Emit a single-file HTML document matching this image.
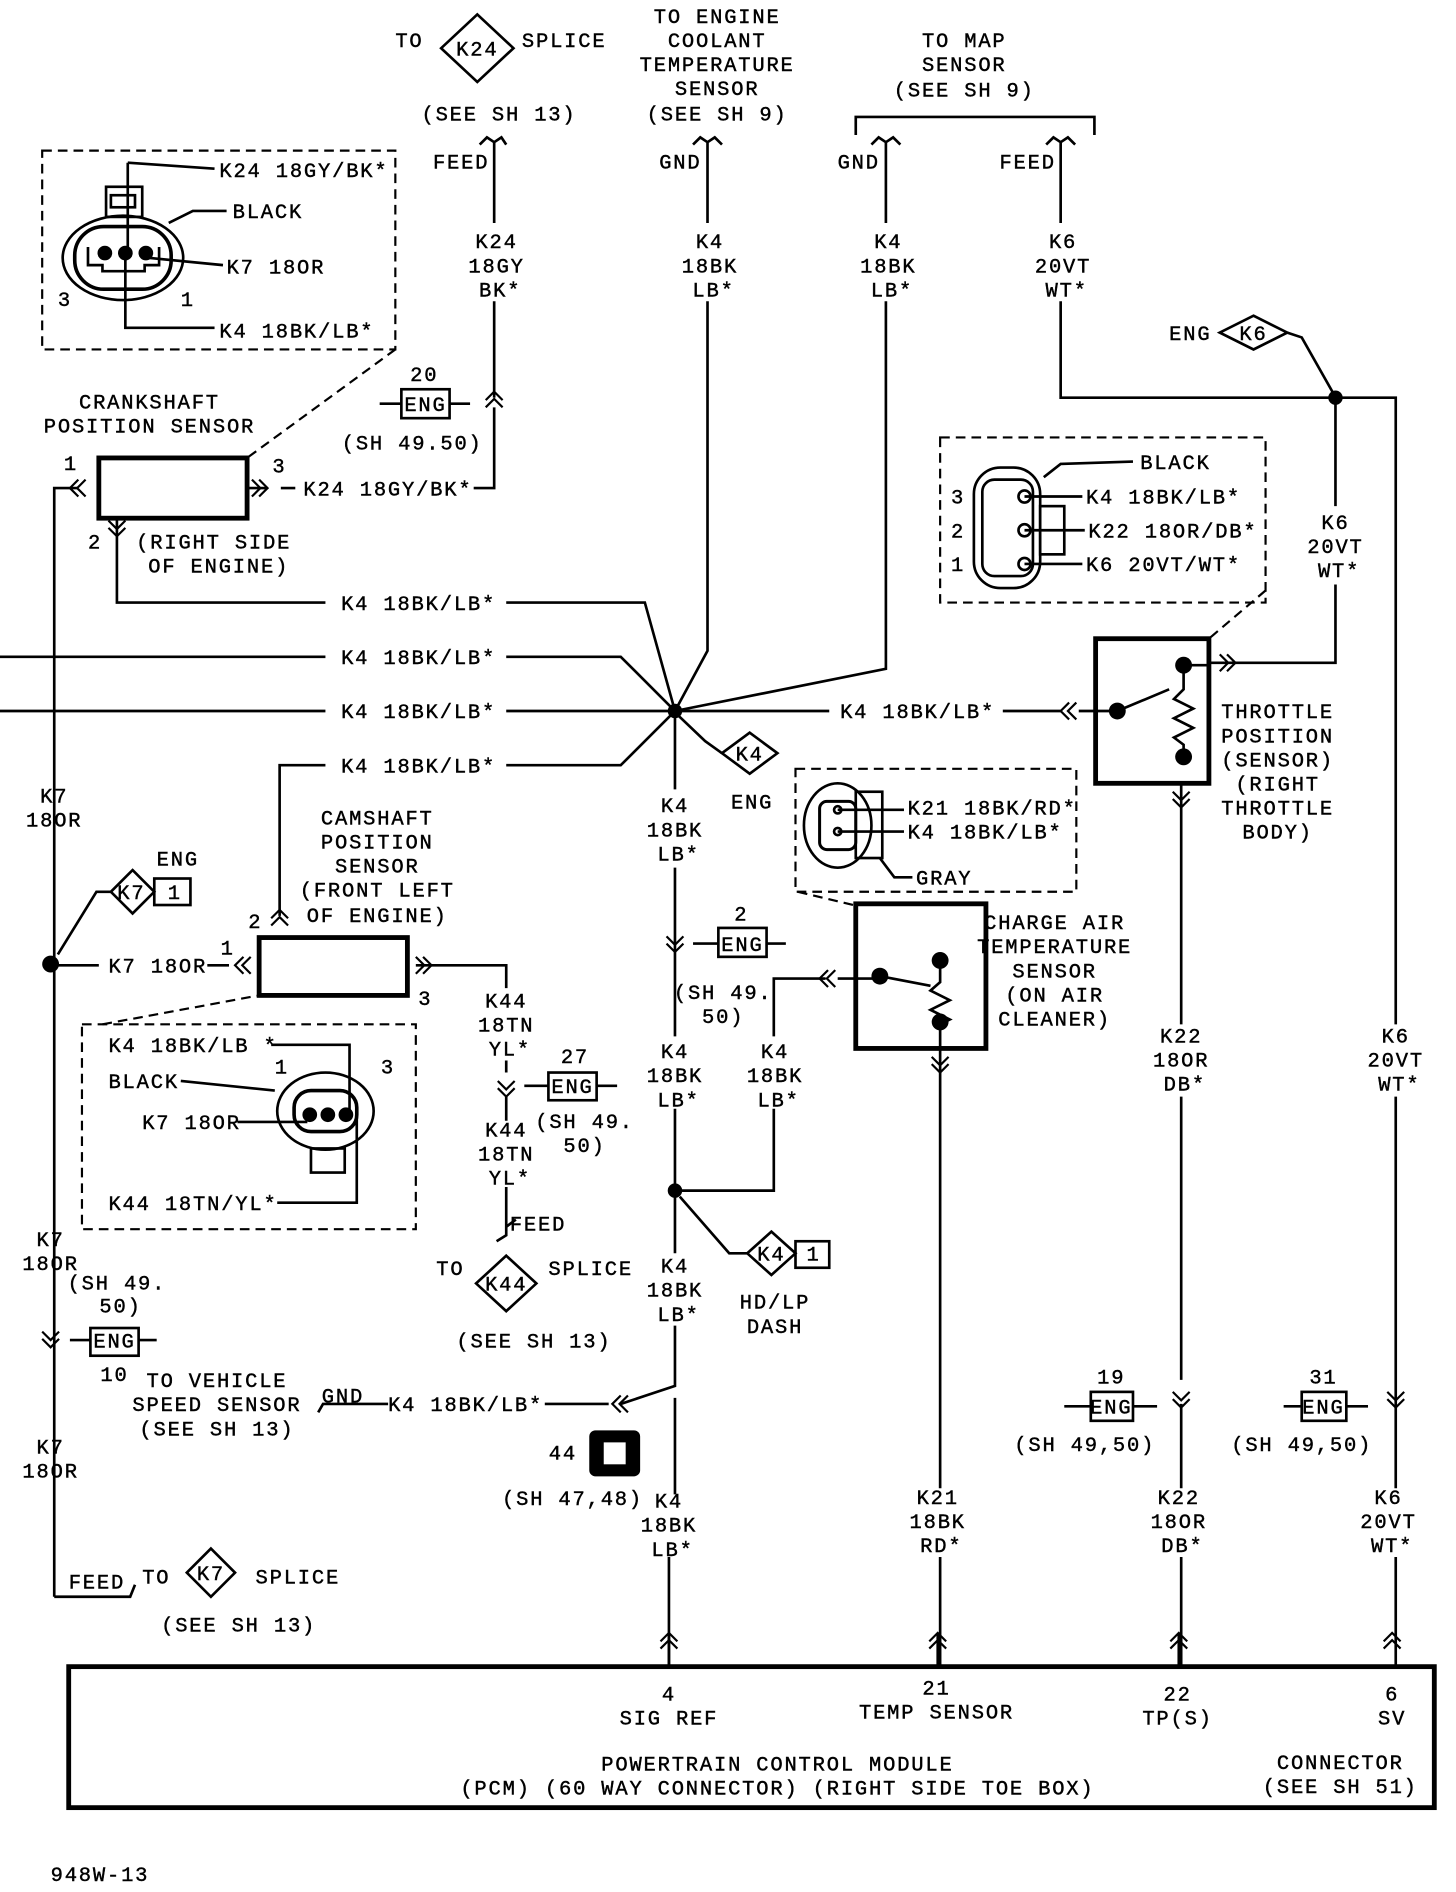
<!DOCTYPE html>
<html><head><meta charset="utf-8"><style>
html,body{margin:0;padding:0;background:#fff;}
svg{display:block;}
text{font-family:"Liberation Mono","DejaVu Sans Mono",monospace;font-size:17px;fill:#000;letter-spacing:1.5px;stroke:#000;stroke-width:0.35px;}
.c{text-anchor:middle;}
.e{text-anchor:end;}
</style></head><body>
<svg width="1456" height="1892" viewBox="0 0 1208 1570" preserveAspectRatio="none" xmlns="http://www.w3.org/2000/svg">
<defs>
<path id="cl" d="M7,-7 L0,0 L7,7 M13,-7 L6,0 L13,7" fill="none" stroke="#000" stroke-width="1.8"/>
<path id="cr" d="M-7,-7 L0,0 L-7,7 M-13,-7 L-6,0 L-13,7" fill="none" stroke="#000" stroke-width="1.8"/>
<path id="cu" d="M-7,7 L0,0 L7,7 M-7,13 L0,6 L7,13" fill="none" stroke="#000" stroke-width="1.8"/>
<path id="cd" d="M-7,-7 L0,0 L7,-7 M-7,-13 L0,-6 L7,-13" fill="none" stroke="#000" stroke-width="1.8"/>
</defs>
<g fill="none" stroke="#000" stroke-width="2.2">
<path d="M396,12 L426,40 L396,68 L366,40 Z"/>
<path d="M398,120 L404,114 L410,118 L416,114 L420,120 M410,118 L410,185 M410,250 L410,330 M410,338 L410,405 L393,405"/>
<path d="M315,335 L333,335 M373,335 L390,335"/>
<rect x="333" y="323" width="40" height="24"/>
<path d="M575,120 L581,114 L587,118 L593,114 L599,120 M587,118 L587,185 M587,250 L587,540 L560,590"/>
<path d="M710,112 L710,97 L908,97 L908,112"/>
<path d="M723,120 L729,114 L735,118 L741,114 L747,120 M735,118 L735,185 M735,250 L735,555 L560,590"/>
<path d="M868,120 L874,114 L880,118 L886,114 L892,120 M880,118 L880,185 M880,250 L880,330 L1158,330 L1158,850 M1158,910 L1158,1235 M1158,1292 L1158,1385"/>
<path d="M1040,262 L1068,276 L1040,290 L1012,276 Z"/>
<path d="M1068,276 L1080,280 L1106,326"/>
<path d="M1108,330 L1108,420 M1108,485 L1108,550 L1020,550 L1003,550"/>
<rect x="909" y="530" width="94" height="120" stroke-width="4"/>
<path d="M982,552 L982,572 L974,580 L990,588 L974,596 L990,604 L974,612 L982,618 L982,628 M927,590 L970,572 M982,552 L1003,552 M895,590 L927,590"/>
<path d="M980,650 L980,850 M980,910 L980,1145 M980,1165 L980,1235 M980,1292 L980,1385"/>
<path d="M883,1167 L905,1167 M940,1167 L960,1167"/>
<rect x="905" y="1155" width="35" height="24"/>
<path d="M1065,1167 L1080,1167 M1117,1167 L1135,1167"/>
<rect x="1080" y="1155" width="37" height="24"/>
<path d="M0,545 L270,545 M420,545 L515,545 L560,590"/>
<path d="M0,590 L270,590 M420,590 L688,590 M832,590 L880,590"/>
<path d="M97,430 L97,500 L270,500 M420,500 L535,500 L560,590"/>
<path d="M232,760 L232,635 L270,635 M420,635 L515,635 L560,590"/>
<path d="M622,608 L645,625 L622,642 L599,625 Z"/>
<path d="M599,625 L585,615 L563,594"/>
<g stroke-dasharray="8,5" stroke-width="1.8">
<rect x="35" y="125" width="293" height="165"/>
<path d="M328,290 L205,380"/>
<rect x="780" y="363" width="270" height="137"/>
<path d="M1050,490 L1003,530"/>
<rect x="660" y="638" width="233" height="102"/>
<path d="M662,740 L712,752"/>
<rect x="68" y="850" width="277" height="170"/>
<path d="M85,850 L215,826"/>
</g>
<ellipse cx="102" cy="214" rx="50" ry="35"/>
<rect x="62" y="188" width="80" height="52" rx="24" stroke-width="3"/>
<rect x="88" y="155" width="30" height="25"/>
<rect x="92" y="162" width="20" height="10"/>
<path d="M73,205 L73,220 L85,220 L85,225 L120,225 L120,220 L132,220 L132,205"/>
<path d="M106,135 L178,140 M106,135 L106,205 M124,214 L185,220"/>
<path d="M104,215 L104,272 L178,272"/>
<path d="M140,185 L160,175 L188,175"/>
<circle cx="87" cy="210" r="5" fill="#000"/><circle cx="104" cy="210" r="5" fill="#000"/><circle cx="121" cy="210" r="5" fill="#000"/>
<rect x="82" y="380" width="123" height="50" stroke-width="4"/>
<path d="M45,1325 L45,405 L65,405 M205,405 L222,405 M233,405 L245,405"/>
<path d="M45,1325 L108,1325 L112,1315"/>
<path d="M110,722 L128,740 L110,758 L92,740 Z"/>
<rect x="128" y="729" width="30" height="22"/>
<path d="M92,740 L80,740 L48,792"/>
<path d="M45,801 L82,801 M172,801 L190,801"/>
<path d="M58,1112 L75,1112 M115,1112 L130,1112"/>
<path d="M175,1285 L195,1305 L175,1325 L155,1305 Z"/>
<rect x="75" y="1102" width="40" height="23"/>
<rect x="215" y="778" width="123" height="48" stroke-width="4"/>
<path d="M345,801 L420,801 L420,820 M420,880 L420,890 M420,910 L420,930 M420,985 L420,1025 L412,1030 M420,1018 L428,1012"/>
<path d="M435,901 L455,901 M495,901 L512,901"/>
<rect x="455" y="890" width="40" height="23"/>
<path d="M420,1042 L445,1065 L420,1088 L395,1065 Z"/>
<ellipse cx="270" cy="922" rx="40" ry="32"/>
<rect x="244" y="905" width="52" height="34" rx="14" stroke-width="3"/>
<rect x="258" y="953" width="28" height="20"/>
<path d="M225,867 L290,867 L290,922 M197,931 L255,931 M230,998 L296,998 L296,922 M150,897 L228,905"/>
<circle cx="257" cy="925" r="5" fill="#000"/><circle cx="272" cy="925" r="5" fill="#000"/><circle cx="287" cy="925" r="5" fill="#000"/>
<path d="M560,590 L560,655 M560,720 L560,860 M560,920 L560,1040 M560,1100 L560,1150 L515,1165 M560,1160 L560,1240 M555,1292 L555,1385"/>
<path d="M575,783 L596,783 M636,783 L652,783"/>
<rect x="596" y="770" width="40" height="24"/>
<path d="M560,988 L642,988 L642,920 M642,860 L642,812 L685,812 M695,812 L730,812"/>
<path d="M640,1022 L660,1040 L640,1058 L620,1040 Z"/>
<rect x="660" y="1030" width="28" height="22"/>
<path d="M620,1040 L605,1040 L564,993"/>
<path d="M452,1165 L505,1165 M322,1165 L268,1165 L264,1172"/>
<rect x="490" y="1188" width="40" height="36" rx="4" fill="#000"/>
<rect x="502" y="1198" width="16" height="16" fill="#fff" stroke="#fff"/>
<rect x="710" y="750" width="108" height="120" stroke-width="4"/>
<path d="M780,797 L780,815 L772,822 L788,830 L772,838 L788,846 L780,850 M730,810 L772,818 M780,848 L780,1235 M780,1292 L780,1385"/>
<ellipse cx="695" cy="685" rx="28" ry="35"/>
<rect x="680" y="665" width="30" height="40" rx="6" stroke-width="2.5"/>
<rect x="710" y="657" width="22" height="55"/>
<path d="M695,672 L750,672 M695,690 L750,690 M730,712 L742,728 L757,728"/>
<circle cx="695" cy="672" r="3"/><circle cx="695" cy="690" r="3"/>
<rect x="808" y="388" width="55" height="100" rx="22"/>
<rect x="815" y="398" width="42" height="80" rx="10"/>
<rect x="863" y="420" width="20" height="40"/>
<path d="M850,412 L898,412 M850,440 L900,440 M850,468 L898,468 M866,396 L880,385 L940,383"/>
<circle cx="850" cy="412" r="5"/><circle cx="850" cy="440" r="5"/><circle cx="850" cy="468" r="5"/>
<rect x="57" y="1383" width="1133" height="117" stroke-width="4"/>
<path d="M555,1355 L555,1385 M778,1355 L778,1385 M978,1355 L978,1385"/>
</g>
<g fill="#000">
<circle cx="560" cy="590" r="6"/>
<circle cx="1108" cy="330" r="6"/>
<circle cx="42" cy="800" r="7"/>
<circle cx="560" cy="988" r="6"/>
<circle cx="982" cy="552" r="7"/><circle cx="982" cy="628" r="7"/><circle cx="927" cy="590" r="7"/>
<circle cx="780" cy="797" r="7"/><circle cx="780" cy="848" r="7"/><circle cx="730" cy="810" r="7"/>
</g>
<use href="#cu" x="410" y="325"/>
<use href="#cl" x="58" y="405"/>
<use href="#cr" x="222" y="405"/>
<use href="#cd" x="97" y="445"/>
<use href="#cr" x="1025" y="550"/>
<use href="#cl" x="880" y="590"/>
<use href="#cd" x="980" y="670"/>
<use href="#cu" x="232" y="755"/>
<use href="#cl" x="195" y="801"/>
<use href="#cr" x="358" y="801"/>
<use href="#cd" x="420" y="910"/>
<use href="#cd" x="560" y="790"/>
<use href="#cl" x="680" y="812"/>
<use href="#cd" x="780" y="890"/>
<use href="#cd" x="42" y="1118"/>
<use href="#cl" x="508" y="1165"/>
<use href="#cd" x="980" y="1168"/>
<use href="#cd" x="1158" y="1168"/>
<use href="#cu" x="555" y="1355"/>
<use href="#cu" x="778" y="1355"/>
<use href="#cu" x="978" y="1355"/>
<use href="#cu" x="1155" y="1355"/>
<text x="328" y="39">TO</text>
<text class="c" x="396" y="46">K24</text>
<text x="433" y="39">SPLICE</text>
<text class="c" x="414" y="100">(SEE SH 13)</text>
<text class="e" x="406" y="140">FEED</text>
<text class="c" x="412" y="206">K24</text><text class="c" x="412" y="226">18GY</text><text class="c" x="415" y="246">BK*</text>
<text class="c" x="352" y="316">20</text><text class="c" x="353" y="341">ENG</text>
<text class="c" x="342" y="373">(SH 49.50)</text>
<text class="e" x="392" y="411">K24 18GY/BK*</text>
<text class="c" x="595" y="19">TO ENGINE</text><text class="c" x="595" y="39">COOLANT</text><text class="c" x="595" y="59">TEMPERATURE</text><text class="c" x="595" y="79">SENSOR</text><text class="c" x="595" y="100">(SEE SH 9)</text>
<text class="e" x="582" y="140">GND</text>
<text class="c" x="589" y="206">K4</text><text class="c" x="589" y="226">18BK</text><text class="c" x="592" y="246">LB*</text>
<text class="c" x="800" y="39">TO MAP</text><text class="c" x="800" y="59">SENSOR</text><text class="c" x="800" y="80">(SEE SH 9)</text>
<text class="e" x="730" y="140">GND</text>
<text class="e" x="876" y="140">FEED</text>
<text class="c" x="737" y="206">K4</text><text class="c" x="737" y="226">18BK</text><text class="c" x="740" y="246">LB*</text>
<text class="c" x="882" y="206">K6</text><text class="c" x="882" y="226">20VT</text><text class="c" x="885" y="246">WT*</text>
<text x="970" y="282">ENG</text><text class="c" x="1040" y="282">K6</text>
<text class="c" x="1108" y="439">K6</text><text class="c" x="1108" y="459">20VT</text><text class="c" x="1111" y="479">WT*</text>
<text x="182" y="147">K24 18GY/BK*</text>
<text x="193" y="181">BLACK</text>
<text x="188" y="227">K7 18OR</text>
<text x="48" y="254">3</text><text x="150" y="254">1</text>
<text x="182" y="280">K4 18BK/LB*</text>
<text class="c" x="124" y="339">CRANKSHAFT</text><text class="c" x="124" y="359">POSITION SENSOR</text>
<text x="53" y="390">1</text><text x="226" y="392">3</text><text x="73" y="455">2</text>
<text x="113" y="455">(RIGHT SIDE</text><text x="123" y="475">OF ENGINE)</text>
<text x="283" y="506">K4 18BK/LB*</text>
<text x="283" y="551">K4 18BK/LB*</text>
<text x="283" y="596">K4 18BK/LB*</text>
<text x="283" y="641">K4 18BK/LB*</text>
<text x="697" y="596">K4 18BK/LB*</text>
<text x="946" y="389">BLACK</text>
<text x="789" y="418">3</text><text x="901" y="418">K4 18BK/LB*</text>
<text x="789" y="446">2</text><text x="903" y="446">K22 18OR/DB*</text>
<text x="789" y="474">1</text><text x="901" y="474">K6 20VT/WT*</text>
<text class="c" x="1060" y="596">THROTTLE</text><text class="c" x="1060" y="616">POSITION</text><text class="c" x="1060" y="636">(SENSOR)</text><text class="c" x="1060" y="656">(RIGHT</text><text class="c" x="1060" y="676">THROTTLE</text><text class="c" x="1060" y="696">BODY)</text>
<text class="c" x="622" y="631">K4</text><text class="c" x="624" y="671">ENG</text>
<text class="c" x="560" y="674">K4</text><text class="c" x="560" y="694">18BK</text><text class="c" x="563" y="714">LB*</text>
<text x="753" y="676">K21 18BK/RD*</text>
<text x="753" y="696">K4 18BK/LB*</text>
<text x="760" y="734">GRAY</text>
<text class="c" x="875" y="771">CHARGE AIR</text><text class="c" x="875" y="791">TEMPERATURE</text><text class="c" x="875" y="811">SENSOR</text><text class="c" x="875" y="831">(ON AIR</text><text class="c" x="875" y="851">CLEANER)</text>
<text class="c" x="615" y="764">2</text><text class="c" x="616" y="789">ENG</text>
<text class="c" x="600" y="829">(SH 49.</text><text class="c" x="600" y="849">50)</text>
<text class="c" x="560" y="878">K4</text><text class="c" x="560" y="898">18BK</text><text class="c" x="563" y="918">LB*</text>
<text class="c" x="643" y="878">K4</text><text class="c" x="643" y="898">18BK</text><text class="c" x="646" y="918">LB*</text>
<text class="c" x="640" y="1046">K4</text><text class="c" x="675" y="1046">1</text>
<text class="c" x="643" y="1086">HD/LP</text><text class="c" x="643" y="1106">DASH</text>
<text class="c" x="560" y="1056">K4</text><text class="c" x="560" y="1076">18BK</text><text class="c" x="563" y="1096">LB*</text>
<text class="c" x="45" y="666">K7</text><text class="c" x="45" y="686">18OR</text>
<text x="130" y="718">ENG</text><text class="c" x="109" y="746">K7</text><text class="c" x="145" y="746">1</text>
<text x="90" y="807">K7 18OR</text>
<text x="183" y="792">1</text><text x="206" y="770">2</text><text x="347" y="834">3</text>
<text class="c" x="313" y="684">CAMSHAFT</text><text class="c" x="313" y="704">POSITION</text><text class="c" x="313" y="724">SENSOR</text><text class="c" x="313" y="744">(FRONT LEFT</text><text class="c" x="313" y="765">OF ENGINE)</text>
<text x="90" y="873">K4 18BK/LB *</text>
<text x="90" y="903">BLACK</text><text x="228" y="891">1</text><text x="316" y="891">3</text>
<text x="118" y="937">K7 18OR</text>
<text x="90" y="1004">K44 18TN/YL*</text>
<text class="c" x="420" y="836">K44</text><text class="c" x="420" y="856">18TN</text><text class="c" x="423" y="876">YL*</text>
<text class="c" x="477" y="882">27</text><text class="c" x="475" y="907">ENG</text>
<text class="c" x="485" y="936">(SH 49.</text><text class="c" x="485" y="956">50)</text>
<text class="c" x="420" y="943">K44</text><text class="c" x="420" y="963">18TN</text><text class="c" x="423" y="983">YL*</text>
<text x="423" y="1021">FEED</text>
<text x="362" y="1058">TO</text><text class="c" x="420" y="1071">K44</text><text x="455" y="1058">SPLICE</text>
<text class="c" x="443" y="1118">(SEE SH 13)</text>
<text class="c" x="42" y="1034">K7</text><text class="c" x="42" y="1054">18OR</text>
<text class="c" x="97" y="1070">(SH 49.</text><text class="c" x="100" y="1089">50)</text>
<text class="c" x="95" y="1118">ENG</text>
<text class="c" x="95" y="1146">10</text>
<text class="c" x="180" y="1151">TO VEHICLE</text><text class="c" x="180" y="1171">SPEED SENSOR</text><text class="c" x="180" y="1191">(SEE SH 13)</text>
<text x="267" y="1164">GND</text>
<text x="322" y="1171">K4 18BK/LB*</text>
<text class="c" x="467" y="1211">44</text>
<text class="c" x="475" y="1249">(SH 47,48)</text>
<text class="c" x="42" y="1206">K7</text><text class="c" x="42" y="1226">18OR</text>
<text x="57" y="1318">FEED</text><text x="118" y="1314">TO</text><text class="c" x="175" y="1311">K7</text><text x="212" y="1314">SPLICE</text>
<text class="c" x="198" y="1354">(SEE SH 13)</text>
<text class="c" x="555" y="1251">K4</text><text class="c" x="555" y="1271">18BK</text><text class="c" x="558" y="1291">LB*</text>
<text class="c" x="778" y="1248">K21</text><text class="c" x="778" y="1268">18BK</text><text class="c" x="781" y="1288">RD*</text>
<text class="c" x="980" y="865">K22</text><text class="c" x="980" y="885">18OR</text><text class="c" x="983" y="905">DB*</text>
<text class="c" x="922" y="1148">19</text><text class="c" x="922" y="1173">ENG</text>
<text class="c" x="900" y="1204">(SH 49,50)</text>
<text class="c" x="978" y="1248">K22</text><text class="c" x="978" y="1268">18OR</text><text class="c" x="981" y="1288">DB*</text>
<text class="c" x="1158" y="865">K6</text><text class="c" x="1158" y="885">20VT</text><text class="c" x="1161" y="905">WT*</text>
<text class="c" x="1098" y="1148">31</text><text class="c" x="1098" y="1173">ENG</text>
<text class="c" x="1080" y="1204">(SH 49,50)</text>
<text class="c" x="1152" y="1248">K6</text><text class="c" x="1152" y="1268">20VT</text><text class="c" x="1155" y="1288">WT*</text>
<text class="c" x="555" y="1411">4</text><text class="c" x="555" y="1431">SIG REF</text>
<text class="c" x="777" y="1406">21</text><text class="c" x="777" y="1426">TEMP SENSOR</text>
<text class="c" x="977" y="1411">22</text><text class="c" x="977" y="1431">TP(S)</text>
<text class="c" x="1155" y="1411">6</text><text class="c" x="1155" y="1431">SV</text>
<text class="c" x="645" y="1469">POWERTRAIN CONTROL MODULE</text>
<text class="c" x="645" y="1489">(PCM) (60 WAY CONNECTOR) (RIGHT SIDE TOE BOX)</text>
<text class="c" x="1112" y="1468">CONNECTOR</text><text class="c" x="1112" y="1488">(SEE SH 51)</text>
<text x="42" y="1561">948W-13</text>
</svg>
</body></html>
